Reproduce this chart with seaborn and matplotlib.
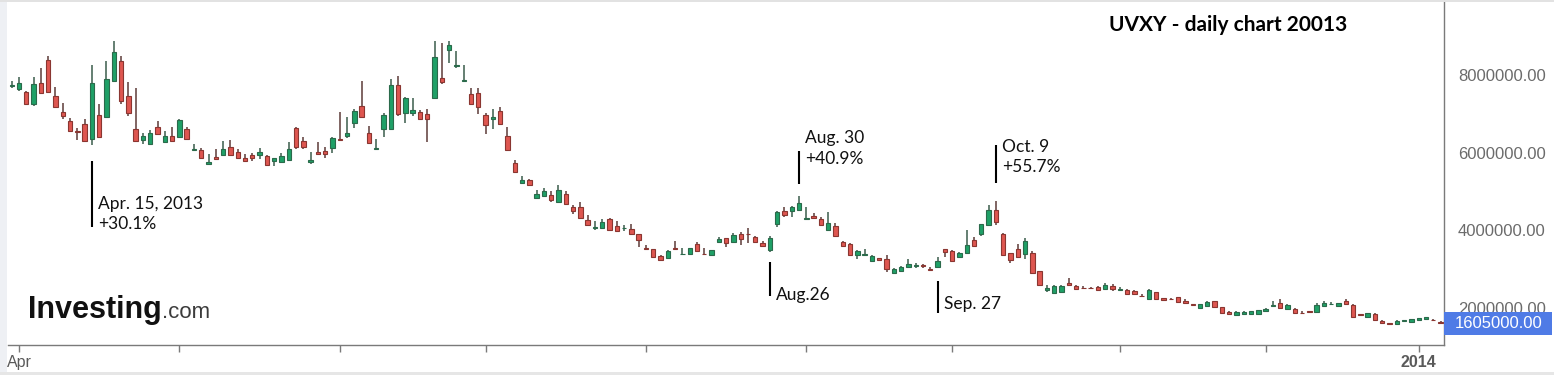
import numpy as np
import pandas as pd
import matplotlib
matplotlib.use("Agg")
import matplotlib.pyplot as plt
import matplotlib.transforms as mtransforms
from matplotlib.patches import Rectangle
from matplotlib.ticker import FormatStrFormatter
import seaborn as sns

# UVXY daily candles, Mar 28 2013 .. Jan 7 2014, values in millions (split adjusted)
open_m = [7.71, 7.63, 7.56, 7.25, 7.79, 8.39, 7.47, 7.04, 6.82, 6.55,
          6.73, 6.36, 6.96, 6.91, 7.84, 8.35, 7.47, 6.62, 6.33, 6.22,
          6.65, 6.28, 6.42, 6.40, 6.62, 6.08, 6.07, 5.71, 5.90, 5.94,
          6.15, 6.01, 5.86, 5.93, 5.93, 5.92, 5.79, 5.75, 5.82, 6.63,
          6.31, 5.75, 6.01, 6.04, 6.11, 6.35, 6.43, 6.76, 7.19, 6.50,
          6.10, 6.60, 6.60, 7.74, 7.03, 7.02, 7.04, 7.00, 7.41, 7.93,
          8.64, 8.23, 7.85, 7.50, 7.54, 6.96, 6.87, 7.08, 6.42, 5.73,
          5.21, 5.30, 4.83, 4.89, 4.92, 4.74, 4.93, 4.61, 4.61, 4.26,
          4.07, 4.05, 4.29, 4.10, 4.05, 4.03, 3.91, 3.54, 3.52, 3.34,
          3.28, 3.54, 3.39, 3.40, 3.64, 3.40, 3.36, 3.70, 3.80, 3.69,
          3.91, 3.91, 3.84, 3.68, 3.49, 4.16, 4.50, 4.51, 4.52, 4.30,
          4.38, 4.30, 4.01, 4.11, 3.69, 3.65, 3.36, 3.37, 3.21, 3.29,
          3.26, 2.90, 2.96, 3.05, 3.08, 3.10, 3.01, 3.05, 3.52, 3.47,
          3.31, 3.42, 3.76, 3.90, 4.14, 4.53, 3.91, 3.41, 3.53, 3.40,
          3.42, 2.95, 2.46, 2.39, 2.41, 2.64, 2.56, 2.52, 2.52, 2.54,
          2.48, 2.57, 2.47, 2.46, 2.43, 2.31, 2.24, 2.41, 2.25, 2.23,
          2.28, 2.19, 2.09, 2.01, 2.05, 2.17, 2.02, 1.90, 1.82, 1.85,
          1.85, 1.85, 1.92, 2.05, 2.14, 1.97, 1.97, 1.87, 1.91, 1.89,
          2.06, 2.09, 2.05, 2.18, 2.07, 1.84, 1.77, 1.84, 1.67, 1.61,
          1.60, 1.66, 1.64, 1.70, 1.71, 1.70, 1.65]
high_m = [7.85, 7.94, 7.59, 7.94, 8.17, 8.49, 7.70, 7.27, 6.89, 6.64,
          6.86, 8.26, 7.24, 8.36, 8.87, 8.48, 7.81, 7.66, 6.50, 6.58,
          6.82, 6.55, 6.65, 6.86, 6.65, 6.23, 6.11, 5.96, 6.09, 6.31,
          6.32, 6.09, 5.97, 6.00, 6.12, 5.95, 5.86, 6.00, 6.27, 6.65,
          6.40, 6.01, 6.27, 6.15, 6.41, 7.05, 6.93, 7.12, 7.85, 6.69,
          6.34, 7.01, 7.89, 7.97, 7.44, 7.40, 7.10, 7.12, 8.88, 8.82,
          8.88, 8.63, 8.26, 7.66, 7.66, 7.01, 7.12, 7.17, 6.65, 5.80,
          5.40, 5.32, 5.04, 5.08, 5.00, 5.17, 5.00, 4.64, 4.73, 4.39,
          4.25, 4.30, 4.32, 4.23, 4.13, 4.15, 3.91, 3.62, 3.53, 3.36,
          3.49, 3.73, 3.55, 3.55, 3.70, 3.55, 3.50, 3.82, 3.81, 3.92,
          3.96, 4.07, 3.85, 3.73, 3.85, 4.51, 4.61, 4.63, 4.88, 4.59,
          4.44, 4.35, 4.46, 4.18, 3.73, 3.67, 3.49, 3.53, 3.37, 3.30,
          3.37, 3.02, 3.07, 3.25, 3.16, 3.14, 3.06, 3.31, 3.53, 3.49,
          3.44, 4.00, 3.82, 4.16, 4.66, 4.76, 3.93, 3.41, 3.64, 3.80,
          3.48, 2.95, 2.59, 2.59, 2.59, 2.77, 2.58, 2.56, 2.55, 2.56,
          2.64, 2.61, 2.55, 2.48, 2.46, 2.36, 2.49, 2.42, 2.26, 2.27,
          2.29, 2.22, 2.11, 2.09, 2.17, 2.19, 2.03, 1.91, 1.92, 1.91,
          1.92, 1.96, 1.99, 2.17, 2.22, 2.11, 1.99, 1.92, 1.92, 2.12,
          2.18, 2.16, 2.14, 2.22, 2.10, 1.85, 1.88, 1.86, 1.68, 1.62,
          1.70, 1.69, 1.72, 1.75, 1.78, 1.72, 1.66]
low_m = [7.67, 7.60, 7.25, 7.21, 7.51, 7.56, 7.17, 6.86, 6.56, 6.32,
         6.27, 6.20, 6.39, 6.91, 7.84, 7.25, 6.94, 6.29, 6.22, 6.22,
         6.47, 6.26, 6.29, 6.40, 6.33, 6.07, 5.85, 5.70, 5.83, 5.93,
         5.93, 5.86, 5.77, 5.78, 5.84, 5.67, 5.66, 5.74, 5.79, 6.09,
         6.09, 5.70, 5.93, 5.86, 5.98, 6.33, 6.37, 6.63, 6.91, 6.26,
         6.09, 6.40, 6.60, 6.94, 6.76, 6.94, 6.86, 6.28, 7.41, 7.76,
         8.30, 8.17, 7.85, 7.25, 6.99, 6.47, 6.60, 6.71, 6.07, 5.47,
         5.20, 5.14, 4.82, 4.85, 4.74, 4.74, 4.67, 4.42, 4.32, 4.12,
         4.01, 4.04, 4.00, 3.97, 3.98, 3.89, 3.58, 3.52, 3.31, 3.23,
         3.28, 3.52, 3.39, 3.39, 3.47, 3.39, 3.35, 3.69, 3.58, 3.69,
         3.62, 3.67, 3.69, 3.58, 3.45, 4.08, 4.35, 4.35, 4.51, 4.30,
         4.30, 4.13, 3.99, 3.85, 3.59, 3.35, 3.27, 3.37, 3.21, 3.24,
         2.93, 2.89, 2.92, 3.04, 3.04, 3.04, 2.97, 3.04, 3.31, 3.20,
         3.28, 3.41, 3.58, 3.85, 4.13, 4.14, 3.35, 3.15, 3.28, 3.27,
         2.89, 2.58, 2.42, 2.38, 2.39, 2.58, 2.49, 2.50, 2.50, 2.46,
         2.46, 2.45, 2.46, 2.35, 2.35, 2.29, 2.23, 2.23, 2.19, 2.21,
         2.15, 2.13, 2.07, 2.00, 2.04, 2.00, 1.88, 1.84, 1.81, 1.84,
         1.84, 1.85, 1.92, 2.05, 1.99, 1.95, 1.88, 1.85, 1.89, 1.88,
         2.05, 2.09, 2.04, 2.09, 1.77, 1.82, 1.76, 1.68, 1.61, 1.60,
         1.59, 1.66, 1.63, 1.69, 1.70, 1.68, 1.60]
close_m = [7.73, 7.79, 7.26, 7.78, 7.53, 7.56, 7.18, 6.94, 6.57, 6.54,
           6.29, 7.79, 6.40, 7.89, 8.58, 7.33, 7.03, 6.29, 6.42, 6.50,
           6.48, 6.43, 6.29, 6.85, 6.35, 6.10, 5.87, 5.75, 5.83, 6.09,
           5.94, 5.86, 5.79, 5.87, 6.01, 5.68, 5.86, 5.92, 6.09, 6.14,
           6.14, 5.81, 5.97, 5.97, 6.39, 6.33, 6.50, 7.06, 6.91, 6.26,
           6.12, 6.96, 7.74, 6.99, 7.40, 7.09, 6.87, 6.87, 8.47, 7.83,
           8.78, 8.25, 7.87, 7.25, 7.18, 6.71, 6.93, 6.75, 6.07, 5.51,
           5.30, 5.17, 4.93, 5.01, 4.77, 5.04, 4.67, 4.51, 4.32, 4.13,
           4.09, 4.22, 4.01, 3.98, 4.07, 3.90, 3.74, 3.53, 3.31, 3.24,
           3.46, 3.53, 3.40, 3.54, 3.48, 3.39, 3.49, 3.78, 3.67, 3.87,
           3.77, 3.90, 3.70, 3.59, 3.80, 4.46, 4.40, 4.60, 4.71, 4.31,
           4.31, 4.13, 4.18, 3.85, 3.59, 3.36, 3.48, 3.38, 3.34, 3.24,
           3.00, 3.00, 3.06, 3.13, 3.10, 3.08, 2.98, 3.22, 3.44, 3.21,
           3.42, 3.63, 3.59, 4.15, 4.52, 4.21, 3.36, 3.24, 3.31, 3.73,
           2.89, 2.59, 2.52, 2.57, 2.57, 2.59, 2.50, 2.51, 2.51, 2.46,
           2.59, 2.49, 2.49, 2.36, 2.36, 2.30, 2.46, 2.24, 2.20, 2.22,
           2.15, 2.14, 2.08, 2.09, 2.15, 2.03, 1.88, 1.85, 1.89, 1.90,
           1.91, 1.95, 1.98, 2.07, 2.00, 2.07, 1.88, 1.86, 1.90, 2.08,
           2.12, 2.10, 2.12, 2.10, 1.77, 1.83, 1.87, 1.69, 1.61, 1.60,
           1.67, 1.68, 1.71, 1.73, 1.76, 1.69, 1.605]

holidays = ["2013-03-29", "2013-05-27", "2013-07-04", "2013-09-02",
            "2013-11-28", "2013-12-25", "2014-01-01"]

yticks = [2e6, 4e6, 6e6, 8e6]

# date, label, marker line from / to (millions), label centre (millions)
notes = [
    ("2013-04-15", "Apr. 15, 2013\n+30.1%", 4.09, 5.78, 4.42),
    ("2013-08-26", "Aug.26", 2.31, 3.18, 2.34),
    ("2013-08-30", "Aug. 30\n+40.9%", 5.19, 6.04, 6.10),
    ("2013-09-27", "Sep. 27", 1.88, 2.70, 2.10),
    ("2013-10-09", "Oct. 9\n+55.7%", 5.23, 6.20, 5.89),
]

sns.set_theme(style="white")
plt.rcParams["font.family"] = ["Liberation Sans", "DejaVu Sans"]

df = pd.DataFrame({"open": open_m, "high": high_m, "low": low_m, "close": close_m}) * 1e6
df.index = pd.bdate_range("2013-03-28", periods=len(df), freq="C", holidays=holidays)
df["day"] = np.arange(len(df))
up = df["close"] >= df["open"]

fig = plt.figure(figsize=(15.54, 3.75), dpi=100)
ax = fig.add_axes([8 / 1554, 30 / 375, 1436 / 1554, 344 / 375])

# candles: wicks then bodies
ax.vlines(df["day"][up], df["low"][up], df["high"][up], color="#3b5c4b", lw=1.1, zorder=2)
ax.vlines(df["day"][~up], df["low"][~up], df["high"][~up], color="#5c3b38", lw=1.1, zorder=2)
body_lo = np.minimum(df["open"], df["close"])
body_h = (df["close"] - df["open"]).abs()
ax.bar(df["day"][up], body_h[up], bottom=body_lo[up], width=0.6,
       color="#1fa067", edgecolor="#2b6a4b", linewidth=0.8, zorder=3)
ax.bar(df["day"][~up], body_h[~up], bottom=body_lo[~up], width=0.6,
       color="#de5650", edgecolor="#8a3631", linewidth=0.8, zorder=3)

ax.set_xlim(-0.51, 196.47)
ax.set_ylim(1.047e6, 9.905e6)

# month ticks on the first trading day of each month
month = df.index.month
starts = [i for i in range(1, len(df)) if month[i] != month[i - 1]]
labels = []
for i in starts:
    d = df.index[i]
    if d.month == 4:
        labels.append("Apr")
    elif d.month == 1:
        labels.append(str(d.year))
    else:
        labels.append("")
ax.set_xticks(starts)
ax.set_xticklabels(labels)
ax.get_xticklabels()[-1].set_fontweight("bold")
ax.tick_params(axis="x", bottom=True, length=5, width=1, color="#7a7a7a",
               labelsize=11.5, labelcolor="#5a5a5a", pad=2)

ax.yaxis.tick_right()
ax.set_yticks(yticks)
ax.yaxis.set_major_formatter(FormatStrFormatter("%.2f"))
ax.tick_params(axis="y", right=True, left=False, length=5, width=1, color="#7a7a7a",
               labelsize=12, labelcolor="#6b6b6b", pad=5)

sns.despine(ax=ax, left=True, top=True, right=False, bottom=False)
for side in ["right", "bottom"]:
    ax.spines[side].set_color("#7a7a7a")
    ax.spines[side].set_linewidth(1.0)
ax.grid(False)

# event markers
for date, label, y0, y1, ty in notes:
    x = df.loc[date, "day"]
    ax.vlines(x, y0 * 1e6, y1 * 1e6, color="black", lw=1.5, zorder=4)
    ax.annotate(label, xy=(x, ty * 1e6), xytext=(4.5, 0), textcoords="offset points",
                ha="left", va="center", fontsize=12.5, color="#111111",
                family=["Lato", "DejaVu Sans"], linespacing=1.35)

# last price tag
last = df["close"].iloc[-1]
trans = mtransforms.blended_transform_factory(ax.transAxes, ax.transData)
ax.add_patch(Rectangle((1.0, last - 0.29e6), 0.0755, 0.58e6, transform=trans,
                       clip_on=False, facecolor="#4f7be6", edgecolor="none", zorder=5))
ax.text(1.0076, last, f"{last:.2f}", transform=trans, ha="left", va="center",
        fontsize=12, color="white", zorder=6)

ax.text(0.8496, 0.930, "UVXY - daily chart 20013", transform=ax.transAxes,
        ha="center", va="center", fontsize=15, fontweight="bold",
        family=["Lato", "DejaVu Sans"], color="black")

# watermark
inv = ax.text(0.0139, 0.0785, "Investing", transform=ax.transAxes, ha="left",
              va="baseline", fontsize=22, fontweight="bold", color="#111111")
ax.annotate(".com", xy=(1, 0), xycoords=inv, xytext=(0, 1.2), textcoords="offset points",
            ha="left", va="bottom", fontsize=16, color="#3c3c3c")

# page frame
fig.patches.append(Rectangle((0, 0), 7 / 1554, 1, transform=fig.transFigure,
                             facecolor="#eef0f4", edgecolor="none"))
fig.patches.append(Rectangle((0, 0), 1, 3 / 375, transform=fig.transFigure,
                             facecolor="#e6e6e6", edgecolor="none"))
fig.patches.append(Rectangle((0, 1 - 1.5 / 375), 1, 1.5 / 375, transform=fig.transFigure,
                             facecolor="#e2e2e2", edgecolor="none"))

fig.savefig("out.png", dpi=100, facecolor="white")
